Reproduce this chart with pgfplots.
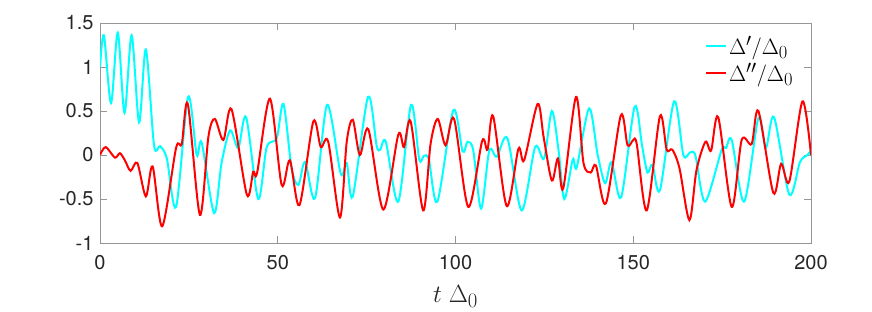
\RequirePackage{fix-cm}
\documentclass[border=0pt]{standalone}
\usepackage{graphicx}
\usepackage{pgfplots}
\pgfplotsset{compat=1.18}
\usepackage{fontspec}
\setmainfont{TeX Gyre Heros}
\definecolor{axgray}{RGB}{150,150,150}
\definecolor{txtgray}{RGB}{38,38,38}
\definecolor{mcyan}{RGB}{0,255,255}
\definecolor{mred}{RGB}{255,0,0}
\begin{document}
\begin{tikzpicture}[x=1pt,y=1pt]
\useasboundingbox (0,0) rectangle (872,312);
\begin{axis}[
  at={(100pt,69pt)}, anchor=south west,
  scale only axis, width=711pt, height=220pt,
  xmin=0, xmax=200, ymin=-1, ymax=1.5,
  xtick={0,50,100,150,200},
  ytick={-1,-0.5,0,0.5,1,1.5},
  yticklabels={-1,-0.5,0,0.5,1,1.5},
  tick align=inside, major tick length=7pt,
  axis line style={axgray, line width=0.8pt},
  every tick/.style={axgray, line width=0.8pt},
  /pgf/number format/assume math mode=true,
  ticklabel style={font=\fontsize{20}{22}\selectfont, text=txtgray},
  xticklabel style={yshift=-9pt},
  yticklabel style={xshift=-3pt},
  xlabel={\fontsize{24.88}{26}\selectfont$t\ \Delta_0$},
  xlabel style={text=txtgray, yshift=-9pt},
  legend style={at={(0.85,0.955)}, anchor=north west, draw=none, fill=none,
    row sep=3pt, inner sep=1pt},
  legend cell align=left,
  legend image code/.code={\draw[#1, line width=1.5pt] (0pt,0pt) -- (20pt,0pt);},
]
\addplot[mcyan, line width=2pt, smooth, tension=0.5] coordinates {
(0,1.0) (1.1,1.36) (3.1,0.59) (5.0,1.39) (6.9,0.48) (8.9,1.36) (11.0,0.37) (12.9,1.20)
(15.2,0.11) (16.9,0.10) (18.8,-0.04) (21.4,-0.59) (24.8,0.66) (27.2,0.0) (28.6,0.14)
(32.1,-0.66) (34.2,-0.09) (36.6,0.28) (38.9,0.08) (41.1,0.43) (44.5,-0.50) (46.9,0.09)
(49.7,0.19) (51.6,0.58) (53.9,-0.15) (55.8,-0.34) (57.7,-0.08) (60.5,-0.49) (63.9,0.57)
(67.7,-0.21) (69.4,-0.09) (71.1,-0.47) (75.4,0.66) (77.8,0.11) (78.8,0.06) (80.4,0.15)
(83.9,-0.53) (87.5,0.57) (89.8,-0.05) (91.1,-0.01) (92.5,-0.05) (94.9,-0.53) (99.4,0.51)
(102.0,0.04) (103.4,0.15) (105.0,0.05) (107.2,-0.61) (109.5,0.05) (111.6,-0.02) (114.6,0.19)
(118.6,-0.63) (122.4,0.09) (124.9,-0.04) (127.1,0.50) (129.0,0.05) (130.6,-0.50) (133.0,-0.05)
(134.1,-0.14) (137.6,0.53) (140.0,0.0) (142.1,-0.32) (143.9,-0.08) (146.6,-0.48) (150.4,0.55)
(152.5,0.1) (154.0,-0.20) (155.4,-0.11) (157.5,-0.40) (161.5,0.61) (164.1,0.0) (166.0,0.03)
(167.5,-0.01) (170.2,-0.53) (174.8,0.05) (176.1,0.08) (177.7,0.17) (181.2,-0.53) (185.2,0.42)
(187.3,0.08) (189.6,0.43) (193.9,-0.45) (196.9,-0.08) (199.0,0.0) (200,0.05)
};
\addlegendentry{\scalebox{0.89}{\fontsize{24.88}{26}\selectfont$\Delta'/\Delta_0$}}
\addplot[mred, line width=2pt, smooth, tension=0.5] coordinates {
(0,0) (1.6,0.09) (4.2,-0.03) (5.6,0.02) (7.0,-0.06) (8.6,-0.18) (10.5,-0.09) (12.9,-0.47)
(14.8,-0.13) (17.5,-0.81) (21.4,0.08) (23.0,0.125) (24.7,0.58) (28.1,-0.68) (30.5,0.21)
(32.3,0.41) (34.7,0.17) (37.0,0.52) (41.3,-0.45) (43.1,-0.19) (44.2,-0.20) (47.8,0.64)
(51.1,-0.34) (53.4,-0.06) (56.1,-0.57) (60.0,0.38) (62.1,0.09) (64.2,0.15) (67.5,-0.71)
(69.4,0.15) (71.1,0.40) (73.1,0.0) (75.5,0.29) (79.7,-0.62) (83.9,0.23) (85.5,0.09)
(87.4,0.38) (90.9,-0.63) (93.0,0.13) (95.0,0.41) (97.2,0.11) (99.6,0.41) (103.6,-0.59)
(107.5,0.16) (109.0,0.06) (110.6,0.44) (114.4,-0.58) (117.7,0.07) (119.3,-0.06) (123.1,0.58)
(124.8,0.2) (127.1,-0.29) (128.8,-0.04) (130.3,-0.38) (133.9,0.66) (136.0,-0.09) (138.0,-0.20)
(139.5,-0.12) (142.3,-0.55) (146.5,0.45) (148.4,0.11) (150.0,0.17) (151.0,0.12) (153.8,-0.63)
(157.5,0.44) (159.4,0.06) (161.0,0.06) (163.0,-0.15) (165.8,-0.74) (167.8,-0.17) (170.3,0.15)
(171.9,0.05) (173.9,0.43) (177.7,-0.59) (180.5,0.17) (183.3,0.125) (185.2,0.50) (189.4,-0.43)
(191.6,-0.10) (193.9,-0.30) (197.6,0.61) (200,0.0)
};
\addlegendentry{\scalebox{0.89}{\fontsize{24.88}{26}\selectfont$\Delta''/\Delta_0$}}
\end{axis}
\end{tikzpicture}
\end{document}
